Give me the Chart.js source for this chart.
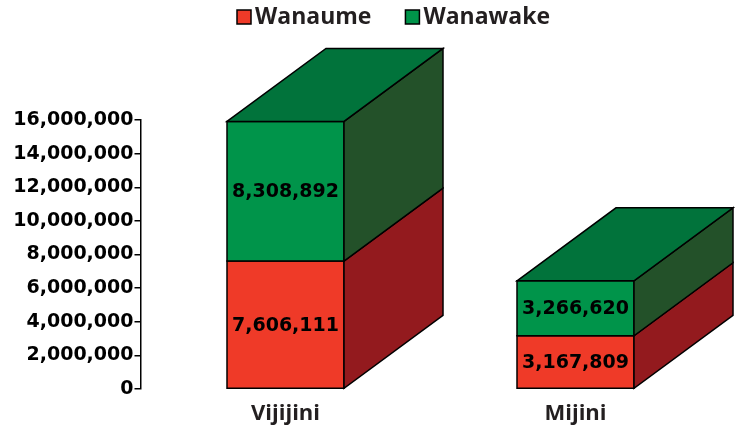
<!DOCTYPE html>
<html><head><meta charset="utf-8">
<script src="https://cdn.jsdelivr.net/npm/chart.js@4"></script>
<style>html,body{margin:0;padding:0;background:#fff}</style>
</head><body>
<canvas id="c" width="737" height="429" style="display:block"></canvas>
<script>
// ---- data ----
const categories = ['Vijijini', 'Mijini'];
const seriesNames = ['Wanaume', 'Wanawake'];
const wanaume = [7606111, 3167809];
const wanawake = [8308892, 3266620];
const yTickValues = [0, 2000000, 4000000, 6000000, 8000000, 10000000, 12000000, 14000000, 16000000];

// ---- style ----
const colors = [
  { front: '#EF3A28', side: '#931A1E', top: '#B52A22' },
  { front: '#00944A', side: '#235129', top: '#01733B' }
];
const DEPTH_X = 99, DEPTH_Y = 73;
const fmt = v => Number(v).toLocaleString('en-US');

function poly(ctx, pts, fill) {
  ctx.beginPath();
  ctx.moveTo(pts[0][0], pts[0][1]);
  for (let k = 1; k < pts.length; k++) ctx.lineTo(pts[k][0], pts[k][1]);
  ctx.closePath();
  ctx.fillStyle = fill;
  ctx.fill();
  ctx.stroke();
}

const cubePlugin = {
  id: 'cube',
  afterDatasetsDraw(chart) {
    const ctx = chart.ctx;
    const metas = chart.data.datasets.map((d, i) => chart.getDatasetMeta(i));
    const n = chart.data.labels.length;
    ctx.save();
    ctx.lineWidth = 1.5;
    ctx.strokeStyle = '#000';
    ctx.lineJoin = 'miter';
    const labels = [];
    for (let i = 0; i < n; i++) {
      metas.forEach((m, di) => {
        const p = m.data[i].getProps(['x', 'y', 'base', 'width'], true);
        const l = p.x - p.width / 2, r = p.x + p.width / 2;
        const t = Math.min(p.y, p.base), b = Math.max(p.y, p.base);
        const c = colors[di];
        poly(ctx, [[l, t], [r, t], [r, b], [l, b]], c.front);
        poly(ctx, [[r, t], [r + DEPTH_X, t - DEPTH_Y], [r + DEPTH_X, b - DEPTH_Y], [r, b]], c.side);
        if (di === metas.length - 1) {
          poly(ctx, [[l, t], [l + DEPTH_X, t - DEPTH_Y], [r + DEPTH_X, t - DEPTH_Y], [r, t]], c.top);
        }
        labels.push({ x: p.x, y: (t + b) / 2, text: fmt(chart.data.datasets[di].data[i]) });
      });
    }
    ctx.fillStyle = '#000';
    ctx.font = 'bold 19px "DejaVu Sans"';
    ctx.textAlign = 'center';
    ctx.textBaseline = 'middle';
    labels.forEach(L => ctx.fillText(L.text, L.x, L.y + 1));
    ctx.restore();
  }
};

const legendPlugin = {
  id: 'customLegend',
  afterDraw(chart) {
    const ctx = chart.ctx;
    ctx.save();
    ctx.font = 'bold 23px "Open Sans"';
    ctx.textBaseline = 'middle';
    ctx.textAlign = 'left';
    let x = 237;
    const cy = 17;
    chart.data.datasets.forEach((d, i) => {
      ctx.fillStyle = colors[i].front;
      ctx.strokeStyle = '#000';
      ctx.lineWidth = 1.5;
      ctx.fillRect(x, cy - 7, 14, 14);
      ctx.strokeRect(x, cy - 7, 14, 14);
      ctx.fillStyle = '#231F20';
      ctx.fillText(d.label, x + 18, cy);
      x += 18 + ctx.measureText(d.label).width + 34;
    });
    ctx.restore();
  }
};

new Chart(document.getElementById('c'), {
  type: 'bar',
  data: {
    labels: categories,
    datasets: [
      { label: seriesNames[0], data: wanaume, backgroundColor: colors[0].front, borderWidth: 0 },
      { label: seriesNames[1], data: wanawake, backgroundColor: colors[1].front, borderWidth: 0 }
    ]
  },
  options: {
    responsive: false,
    animation: false,
    layout: { padding: { top: 120, right: 16.5, left: 0, bottom: 0 } },
    plugins: { legend: { display: false }, tooltip: { enabled: false } },
    datasets: { bar: { categoryPercentage: 1, barPercentage: 117 / 290 } },
    scales: {
      x: {
        stacked: true,
        grid: { display: false },
        border: { display: false },
        ticks: { color: '#231F20', font: { family: 'Open Sans', weight: 'bold', size: 22 }, padding: 4 },
        afterFit(s) { s.height = 40; }
      },
      y: {
        stacked: true,
        min: 0, max: 16000000,
        afterBuildTicks(s) { s.ticks = yTickValues.map(v => ({ value: v })); },
        grid: { drawOnChartArea: false, drawTicks: true, tickLength: 6, color: '#000', lineWidth: 1.5 },
        border: { display: true, color: '#000', width: 1.5 },
        ticks: { color: '#000', font: { family: 'DejaVu Sans', weight: 'bold', size: 19 }, padding: 1, callback: v => fmt(v) },
        afterFit(s) { s.width = 140.5; }
      }
    }
  },
  plugins: [cubePlugin, legendPlugin]
});
</script>
</body></html>
